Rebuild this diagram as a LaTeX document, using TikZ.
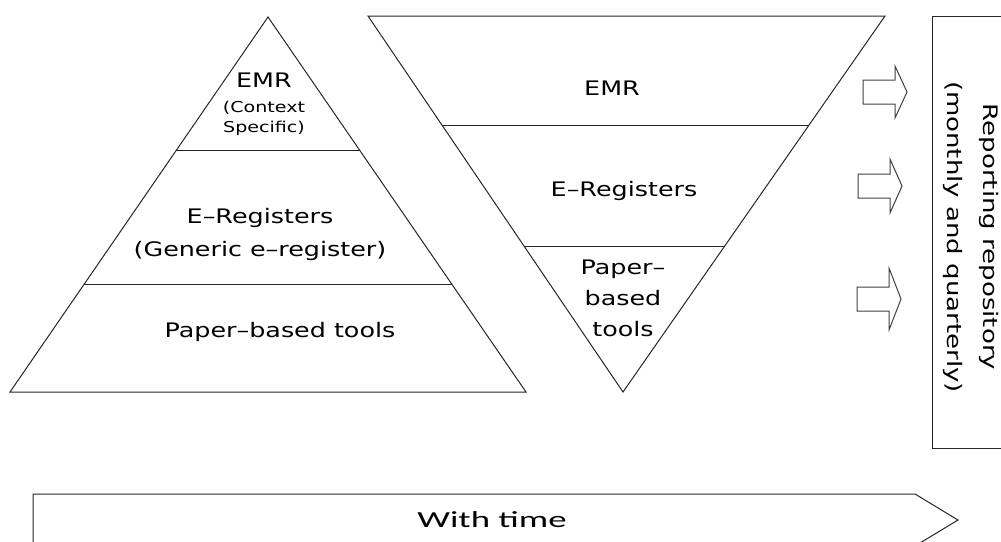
\documentclass[tikz,border=0pt]{standalone}
\usepackage{fontspec}
\setmainfont{DejaVu Sans}
\newfontfamily\timefont{Carlito}
\usetikzlibrary{calc}

\begin{document}
\begin{tikzpicture}[
        x = 1pt, y = -1pt,
   line/.style = {draw=black!85, line width=1pt},
    blk/.style = {draw=black!75, line width=1pt},
   tier/.style = {font=\fontsize{20}{33}\selectfont, align=center,
                  xscale=1.27, inner sep=0pt},
    sub/.style = {font=\fontsize{15}{20}\selectfont, align=center,
                  xscale=1.27, inner sep=0pt}
                        ]
%
\useasboundingbox (0,0) rectangle (1001,541);
\clip (0,0) rectangle (1001,541);
% pyramid
\coordinate (Apex) at (268,17);
\coordinate (BL) at (10,392);
\coordinate (BR) at (526,392);
\draw[line] (Apex) -- (BL) -- (BR) -- cycle;
\draw[line] ($(Apex)!0.355!(BL)$) -- ($(Apex)!0.355!(BR)$);
\draw[line] ($(Apex)!0.712!(BL)$) -- ($(Apex)!0.712!(BR)$);
\node (EMRl) [tier] at (264,80) {EMR};
\node (Ctx) [sub] at (264,118) {(Context\\Specific)};
\node (Regl) [tier] at (260,234) {E–Registers\\(Generic e–register)};
\node (Papl) [tier] at (280,332) {Paper–based tools};
% inverted pyramid
\coordinate (TL) at (368,16);
\coordinate (TR) at (885,16);
\coordinate (Tip) at (623,392);
\draw[line] (TL) -- (TR) -- (Tip) -- cycle;
\draw[line] ($(TL)!0.29!(Tip)$) -- ($(TR)!0.29!(Tip)$);
\draw[line] ($(TL)!0.614!(Tip)$) -- ($(TR)!0.614!(Tip)$);
\node (EMRr) [tier] at (612,88) {EMR};
\node (Regr) [tier] at (624,191) {E–Registers};
\node (Papr) [tier, font=\fontsize{20}{31}\selectfont] at (623,298)
     {Paper–\\based\\tools};
% block arrows
\foreach \xa/\ya/\hh in {863/92/26, 858/186/27, 857/299/31}
   \draw[blk] (\xa,\ya-12) -- ++(32,0) -- ++(0,{12-\hh}) -- ++(12,\hh)
      -- ++(-12,\hh) -- ++(0,{12-\hh}) -- ++(-32,0) -- cycle;
% repository
\draw[line] (932,16) rectangle (1012,448);
\node (Repo) [rotate=-90, xscale=1.3, align=center, inner sep=0pt,
     font=\fontsize{20}{36}\selectfont]
     at (971,237) {Reporting repository\\(monthly and quarterly)};
% time arrow
\draw[line] (33,494) -- (915,494) -- (958,520) -- (915,546) -- (33,546) -- cycle;
\node (Time) [font=\timefont\fontsize{23}{23}\selectfont, xscale=1.6,
     inner sep=0pt] at (492,520) {With time};
\end{tikzpicture}
\end{document}
